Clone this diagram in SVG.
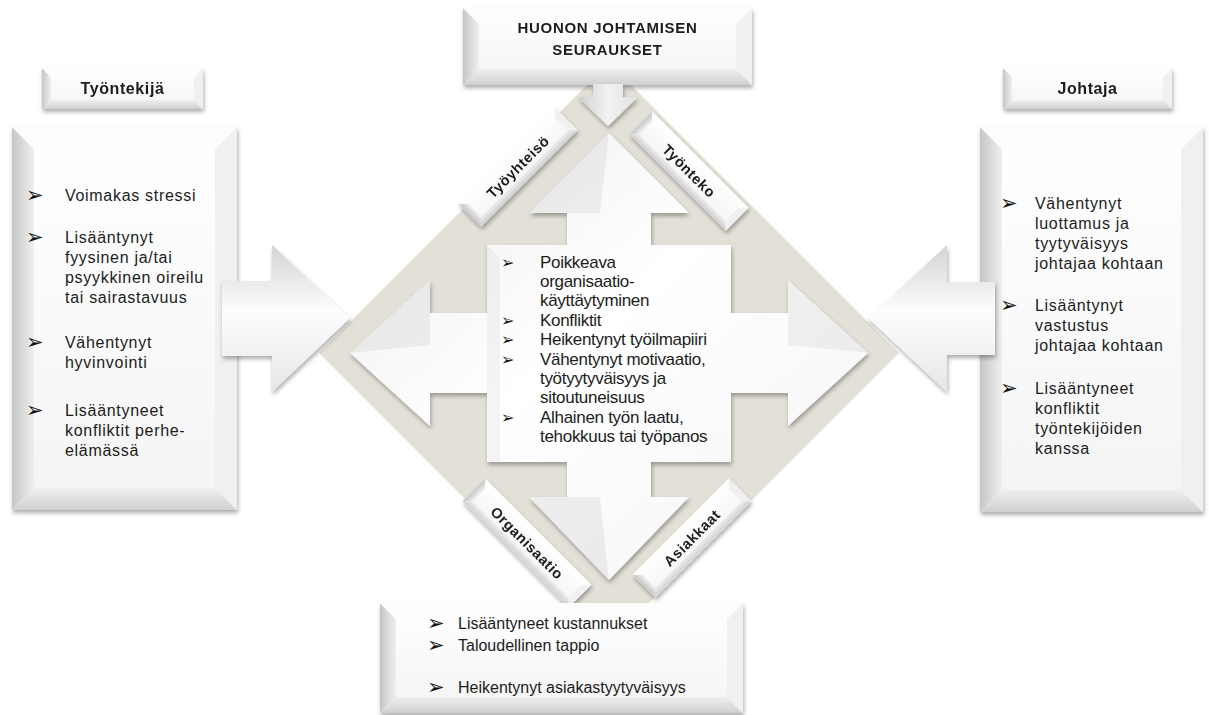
<svg xmlns="http://www.w3.org/2000/svg" width="1209" height="715" viewBox="0 0 1209 715">
<defs>
<style>
.t{font-family:"Liberation Sans",Arial,sans-serif;fill:#1c1c1c}
.side{font-size:16px;letter-spacing:0.7px}
.ctr{font-size:17px;letter-spacing:-0.3px}
.bot{font-size:16px}
.hd{font-weight:bold;font-size:16px;letter-spacing:0.6px}
.ttl{font-weight:bold;font-size:15px;letter-spacing:0.7px}
.lab{font-weight:bold;font-size:14.5px;letter-spacing:0.6px}
.bul{font-family:"DejaVu Sans",sans-serif;font-size:21px;fill:#111111}
.bulc{font-family:"DejaVu Sans",sans-serif;font-size:16px;font-weight:bold;fill:#111111}
.face{fill:url(#gFace)}
.bl{fill:url(#gBevL)}
.bb{fill:url(#gBevB)}
.br{fill:#f0f0f0}
.bt{fill:#fdfdfd}
</style>
<linearGradient id="gFace" x1="0" y1="0" x2="0" y2="1"><stop offset="0" stop-color="#ffffff"/><stop offset="1" stop-color="#f4f4f4"/></linearGradient>
<linearGradient id="gBevL" x1="0" y1="0" x2="1" y2="0"><stop offset="0" stop-color="#c6c6c6"/><stop offset="1" stop-color="#efefef"/></linearGradient>
<linearGradient id="gBevB" x1="0" y1="0" x2="0" y2="1"><stop offset="0" stop-color="#efefef"/><stop offset="1" stop-color="#d0d0d0"/></linearGradient>
<linearGradient id="gCross" x1="0" y1="0" x2="1" y2="1"><stop offset="0" stop-color="#ececec"/><stop offset="0.45" stop-color="#ffffff"/><stop offset="1" stop-color="#f4f4f4"/></linearGradient>
<linearGradient id="gArrV" x1="0" y1="0" x2="0" y2="1"><stop offset="0" stop-color="#d3d3d3"/><stop offset="0.45" stop-color="#fdfdfd"/><stop offset="1" stop-color="#e6e6e6"/></linearGradient>
<linearGradient id="gDown" x1="0" y1="0" x2="1" y2="0"><stop offset="0" stop-color="#cfcfcf"/><stop offset="0.5" stop-color="#f2f2f2"/><stop offset="1" stop-color="#e2e2e2"/></linearGradient>
<filter id="sh" x="-15%" y="-15%" width="135%" height="140%"><feDropShadow dx="1" dy="3" stdDeviation="2" flood-color="#000" flood-opacity="0.32"/></filter>
<g id="lab136">
<rect x="-68" y="-16" width="136" height="32" class="face"/>
<polygon class="bl" points="-68,-16 -61,-9 -61,9 -68,16"/>
<polygon class="bb" points="-68,16 -61,9 61,9 68,16"/>
<polygon class="br" points="68,-16 68,16 61,9 61,-9"/>
<polygon class="bt" points="-68,-16 68,-16 61,-9 -61,-9"/>
</g>
<g id="lab150">
<rect x="-75" y="-16" width="150" height="32" class="face"/>
<polygon class="bl" points="-75,-16 -68,-9 -68,9 -75,16"/>
<polygon class="bb" points="-75,16 -68,9 68,9 75,16"/>
<polygon class="br" points="75,-16 75,16 68,9 68,-9"/>
<polygon class="bt" points="-75,-16 75,-16 68,-9 -68,-9"/>
</g>
</defs>
<rect width="1209" height="715" fill="#ffffff"/>

<g id="diamond">
<polygon points="609,63 899,353 609,643 319,353" fill="#e3e0d7"/>
</g>

<g id="center-node" filter="url(#sh)">
<polygon fill="url(#gCross)" points="609,133 689,213 651,213 651,245 731,245 731,313 788,313 788,280 868,353 788,426 788,393 731,393 731,462 651,462 651,497 689,497 609,580 529,497 567,497 567,462 487,462 487,393 430,393 430,426 350,353 430,280 430,313 487,313 487,245 567,245 567,213 529,213"/>
<polygon points="529,213 609,133 600,213" fill="#000" fill-opacity="0.05"/>
<polygon points="529,497 609,580 600,497" fill="#000" fill-opacity="0.06"/>
<polygon points="350,353 430,280 430,345" fill="#000" fill-opacity="0.05"/>
<polygon points="868,353 788,280 788,345" fill="#000" fill-opacity="0.05"/>
<polygon points="487,245 500,258 500,462 487,462" fill="#000" fill-opacity="0.04"/>
</g>
<g id="center-text">
<text class="bulc" x="501" y="268">➢</text>
<text class="bulc" x="501" y="326">➢</text>
<text class="bulc" x="501" y="345">➢</text>
<text class="bulc" x="501" y="365">➢</text>
<text class="bulc" x="501" y="423">➢</text>
<text class="t ctr" x="540" y="268">Poikkeava</text>
<text class="t ctr" x="540" y="287">organisaatio-</text>
<text class="t ctr" x="540" y="306">käyttäytyminen</text>
<text class="t ctr" x="540" y="326">Konfliktit</text>
<text class="t ctr" x="540" y="345">Heikentynyt työilmapiiri</text>
<text class="t ctr" x="540" y="365">Vähentynyt motivaatio,</text>
<text class="t ctr" x="540" y="384">työtyytyväisyys ja</text>
<text class="t ctr" x="540" y="403">sitoutuneisuus</text>
<text class="t ctr" x="540" y="423">Alhainen työn laatu,</text>
<text class="t ctr" x="540" y="442">tehokkuus tai työpanos</text>
</g>

<g id="label-tyoyhteiso" filter="url(#sh)">
<g transform="translate(518,167) rotate(-45)"><use href="#lab136"/><text class="t lab" x="0" y="5" text-anchor="middle">Työyhteisö</text></g>
</g>
<g id="label-tyonteko" filter="url(#sh)">
<g transform="translate(689,171) rotate(45)"><use href="#lab136"/><text class="t lab" x="0" y="5" text-anchor="middle">Työnteko</text></g>
</g>
<g id="label-organisaatio" filter="url(#sh)">
<g transform="translate(527,543) rotate(45)"><use href="#lab150"/><text class="t lab" x="0" y="5" text-anchor="middle">Organisaatio</text></g>
</g>
<g id="label-asiakkaat" filter="url(#sh)">
<g transform="translate(692,538) rotate(-45)"><use href="#lab136"/><text class="t lab" x="0" y="5" text-anchor="middle">Asiakkaat</text></g>
</g>

<g id="tyontekija-label" filter="url(#sh)">
<rect x="42" y="68" width="161" height="41" class="face"/>
<polygon class="bl" points="42,68 51,77 51,100 42,109"/>
<polygon class="bb" points="42,109 51,100 194,100 203,109"/>
<polygon class="br" points="203,68 203,109 194,100 194,77"/>
<polygon class="bt" points="42,68 203,68 194,77 51,77"/>
<text class="t hd" x="122.5" y="94" text-anchor="middle">Työntekijä</text>
</g>

<g id="tyontekija-box">
<g filter="url(#sh)">
<rect x="12" y="127" width="225" height="383" class="face"/>
<polygon class="bl" points="12,127 34,149 34,488 12,510"/>
<polygon class="bb" points="12,510 34,488 215,488 237,510"/>
<polygon class="br" points="237,127 237,510 215,488 215,149"/>
<polygon class="bt" points="12,127 237,127 215,149 34,149"/>
</g>
<text class="bul" x="26" y="202">➢</text>
<text class="bul" x="26" y="244">➢</text>
<text class="bul" x="26" y="349">➢</text>
<text class="bul" x="26" y="417">➢</text>
<text class="t side" x="65" y="201">Voimakas stressi</text>
<text class="t side" x="65" y="243">Lisääntynyt</text>
<text class="t side" x="65" y="263">fyysinen ja/tai</text>
<text class="t side" x="65" y="283">psyykkinen oireilu</text>
<text class="t side" x="65" y="303">tai sairastavuus</text>
<text class="t side" x="65" y="348">Vähentynyt</text>
<text class="t side" x="65" y="368">hyvinvointi</text>
<text class="t side" x="65" y="416">Lisääntyneet</text>
<text class="t side" x="65" y="436">konfliktit perhe-</text>
<text class="t side" x="65" y="456">elämässä</text>
</g>

<g id="johtaja-label" filter="url(#sh)">
<rect x="1003" y="68" width="169" height="41" class="face"/>
<polygon class="bl" points="1003,68 1012,77 1012,100 1003,109"/>
<polygon class="bb" points="1003,109 1012,100 1163,100 1172,109"/>
<polygon class="br" points="1172,68 1172,109 1163,100 1163,77"/>
<polygon class="bt" points="1003,68 1172,68 1163,77 1012,77"/>
<text class="t hd" x="1087.5" y="94" text-anchor="middle">Johtaja</text>
</g>

<g id="johtaja-box">
<g filter="url(#sh)">
<rect x="980" y="127" width="223" height="385" class="face"/>
<polygon class="bl" points="980,127 1002,149 1002,490 980,512"/>
<polygon class="bb" points="980,512 1002,490 1181,490 1203,512"/>
<polygon class="br" points="1203,127 1203,512 1181,490 1181,149"/>
<polygon class="bt" points="980,127 1203,127 1181,149 1002,149"/>
</g>
<text class="bul" x="1000" y="210">➢</text>
<text class="bul" x="1000" y="312">➢</text>
<text class="bul" x="1000" y="395">➢</text>
<text class="t side" x="1035" y="209">Vähentynyt</text>
<text class="t side" x="1035" y="229">luottamus ja</text>
<text class="t side" x="1035" y="249">tyytyväisyys</text>
<text class="t side" x="1035" y="269">johtajaa kohtaan</text>
<text class="t side" x="1035" y="311">Lisääntynyt</text>
<text class="t side" x="1035" y="331">vastustus</text>
<text class="t side" x="1035" y="351">johtajaa kohtaan</text>
<text class="t side" x="1035" y="394">Lisääntyneet</text>
<text class="t side" x="1035" y="414">konfliktit</text>
<text class="t side" x="1035" y="434">työntekijöiden</text>
<text class="t side" x="1035" y="454">kanssa</text>
</g>

<g id="bottom-box">
<g filter="url(#sh)">
<rect x="380" y="603" width="363" height="110" class="face"/>
<polygon class="bl" points="380,603 396,619 396,697 380,713"/>
<polygon class="bb" points="380,713 396,697 727,697 743,713"/>
<polygon class="br" points="743,603 743,713 727,697 727,619"/>
<polygon class="bt" points="380,603 743,603 727,619 396,619"/>
</g>
<text class="bul" x="427" y="630">➢</text>
<text class="bul" x="427" y="652">➢</text>
<text class="bul" x="427" y="694">➢</text>
<text class="t bot" x="458" y="629">Lisääntyneet kustannukset</text>
<text class="t bot" x="458" y="651">Taloudellinen tappio</text>
<text class="t bot" x="458" y="693">Heikentynyt asiakastyytyväisyys</text>
</g>

<g id="title-box" filter="url(#sh)">
<rect x="463" y="8" width="289" height="77" class="face"/>
<polygon class="bl" points="463,8 479,24 479,69 463,85"/>
<polygon class="bb" points="463,85 479,69 736,69 752,85"/>
<polygon class="br" points="752,8 752,85 736,69 736,24"/>
<polygon class="bt" points="463,8 752,8 736,24 479,24"/>
<text class="t ttl" x="607.5" y="33" text-anchor="middle">HUONON JOHTAMISEN</text>
<text class="t ttl" x="607.5" y="55" text-anchor="middle">SEURAUKSET</text>
</g>

<g id="connectors" filter="url(#sh)">
<polygon fill="url(#gArrV)" points="222,281 272,281 272,245 350,318 272,392 272,356 222,356"/>
<polygon fill="url(#gArrV)" points="995,282 947,282 947,245 868,318 947,392 947,355 995,355"/>
<polygon fill="url(#gDown)" points="593,84 623,84 623,97 638,97 608,126 578,97 593,97"/>
</g>
</svg>
